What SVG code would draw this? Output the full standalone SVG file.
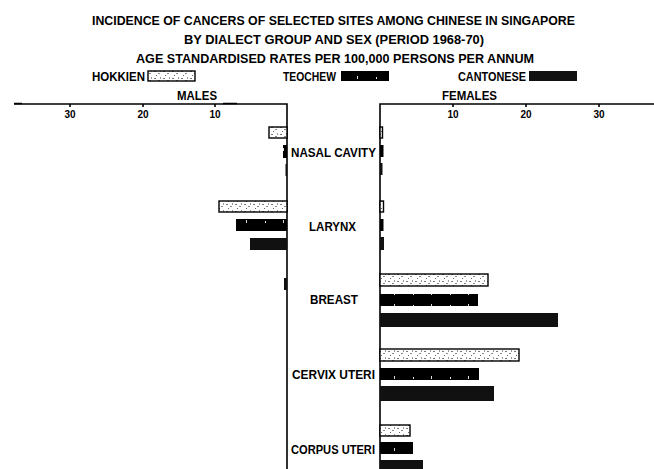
<svg xmlns="http://www.w3.org/2000/svg" width="654" height="469" viewBox="0 0 654 469">
<style>
text{font-family:"Liberation Sans","DejaVu Sans",sans-serif;font-weight:bold;fill:#000}
.t{font-size:13.5px}
.lab{font-size:12px}
.tk{font-size:10px;text-anchor:middle}
.ax{stroke:#000;stroke-width:1.6;fill:none}
.hok{fill:url(#hokP);stroke:#000;stroke-width:1.4}
.teo{fill:url(#teoP)}
.can{fill:#111}
</style>
<defs>
<pattern id="hokP" width="9" height="7" patternUnits="userSpaceOnUse">
<rect width="9" height="7" fill="#fff"/>
<rect x="1" y="1" width="2" height="1" fill="#777"/>
<rect x="5" y="3" width="2" height="1" fill="#888"/>
<rect x="3" y="5" width="1" height="1" fill="#666"/>
<rect x="7" y="0" width="1" height="2" fill="#999"/>
</pattern>
<pattern id="teoP" width="37" height="12" patternUnits="userSpaceOnUse">
<rect width="37" height="12" fill="#000"/>
<rect x="6" y="5" width="1" height="2" fill="#ddd"/>
<rect x="24" y="4" width="1" height="3" fill="#ddd"/>
</pattern>
</defs>

<g id="title">
<text class="t" x="92" y="25" textLength="483" lengthAdjust="spacingAndGlyphs">INCIDENCE OF CANCERS OF SELECTED SITES AMONG CHINESE IN SINGAPORE</text>
<text class="t" x="184" y="44" textLength="300" lengthAdjust="spacingAndGlyphs">BY DIALECT GROUP AND SEX (PERIOD 1968-70)</text>
<text class="t" x="136" y="63" textLength="398" lengthAdjust="spacingAndGlyphs">AGE STANDARDISED RATES PER 100,000 PERSONS PER ANNUM</text>
</g>

<g id="legend">
<text class="t" x="92" y="81" textLength="53" lengthAdjust="spacingAndGlyphs">HOKKIEN</text>
<rect class="hok" x="148" y="71" width="47" height="10"/>
<text class="t" x="283" y="81" textLength="53" lengthAdjust="spacingAndGlyphs">TEOCHEW</text>
<rect class="teo" x="341" y="71" width="48" height="10"/>
<text class="t" x="458" y="81" textLength="68" lengthAdjust="spacingAndGlyphs">CANTONESE</text>
<rect class="can" x="529" y="71" width="48" height="10"/>
</g>

<g id="axes">
<text class="t" x="177" y="100" textLength="40" lengthAdjust="spacingAndGlyphs">MALES</text>
<text class="t" x="442" y="100" textLength="55" lengthAdjust="spacingAndGlyphs">FEMALES</text>
<path class="ax" d="M14 104H287V469M380 469V104H654"/>
<path class="ax" d="M14 103.5H22M223 103.5H237" stroke-width="2.5"/>
<path class="ax" d="M70 104v3M143 104v3M215 104v3M453 104v3M526 104v3M599 104v3"/>
<text class="tk" x="70" y="118">30</text>
<text class="tk" x="143" y="118">20</text>
<text class="tk" x="215" y="118">10</text>
<text class="tk" x="453" y="118">10</text>
<text class="tk" x="526" y="118">20</text>
<text class="tk" x="599" y="118">30</text>
</g>

<g id="nasal-cavity">
<rect class="hok" x="269" y="127" width="18" height="11"/>
<rect class="teo" x="283" y="145" width="4" height="13"/>
<rect class="can" x="285.5" y="164" width="1.5" height="12"/>
<rect class="hok" x="380" y="127" width="2.5" height="11"/>
<rect class="teo" x="380" y="145" width="3.5" height="12"/>
<rect class="can" x="380" y="163" width="2.5" height="12"/>
<text class="lab" x="291" y="157" textLength="85" lengthAdjust="spacingAndGlyphs">NASAL CAVITY</text>
</g>

<g id="larynx">
<rect class="hok" x="219" y="201" width="68" height="11"/>
<rect class="teo" x="236" y="219" width="51" height="12"/>
<rect class="can" x="250" y="238" width="37" height="12"/>
<rect class="hok" x="380" y="201" width="3.5" height="11"/>
<rect class="teo" x="380" y="219" width="3.5" height="12"/>
<rect class="can" x="380" y="237" width="4" height="13"/>
<text class="lab" x="309" y="231" textLength="47" lengthAdjust="spacingAndGlyphs">LARYNX</text>
</g>

<g id="breast">
<rect class="can" x="284" y="278" width="3" height="12"/>
<rect class="hok" x="380" y="274" width="108" height="12"/>
<rect class="teo" x="380" y="294" width="98" height="12"/>
<rect class="can" x="380" y="313" width="178" height="14" fill="#222"/>
<text class="lab" x="310" y="304" textLength="48" lengthAdjust="spacingAndGlyphs">BREAST</text>
</g>

<g id="cervix-uteri">
<rect class="hok" x="380" y="349" width="139" height="12"/>
<rect class="teo" x="380" y="368" width="99" height="12"/>
<rect class="can" x="380" y="386" width="114" height="15" fill="#222"/>
<text class="lab" x="292" y="379" textLength="83" lengthAdjust="spacingAndGlyphs">CERVIX UTERI</text>
</g>

<g id="corpus-uteri">
<rect class="hok" x="380" y="425" width="30" height="11"/>
<rect class="teo" x="380" y="442" width="33" height="12"/>
<rect class="can" x="380" y="460" width="43" height="9"/>
<text class="lab" x="291" y="454" textLength="84" lengthAdjust="spacingAndGlyphs">CORPUS UTERI</text>
</g>
</svg>
